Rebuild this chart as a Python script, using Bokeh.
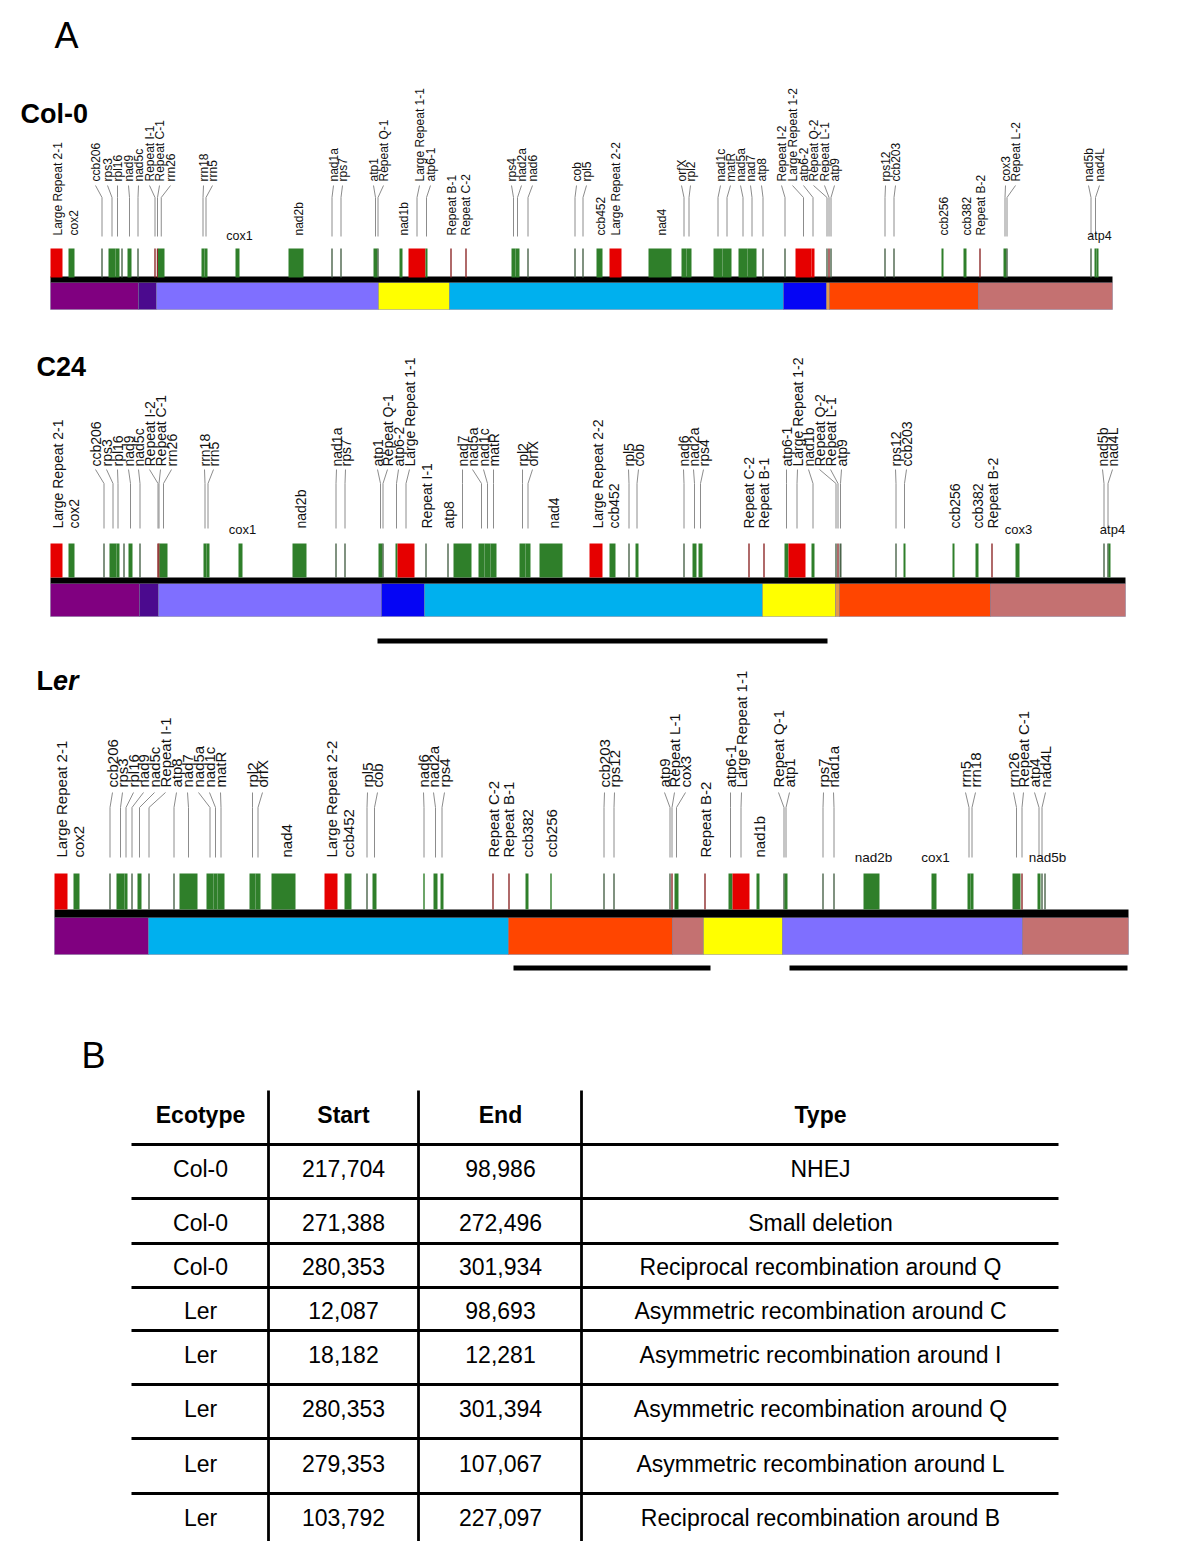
import math
from bokeh.plotting import figure
from bokeh.models import Range1d
from bokeh.core.properties import value
from bokeh.embed import file_html
from bokeh.resources import INLINE

# ---------------------------------------------------------------- data
# genes: (name, start, end, kind)  kind: g=gene, t=thin gene, r=large repeat, d=small repeat
COL0_GENES = [
    ("Large Repeat 2-1", 50, 62, "r"), ("cox2", 68, 74, "g"),
    ("ccb206", 101, 102, "t"), ("rps3", 108, 115, "g"), ("rpl16", 115, 119, "g"), ("", 121, 122, "t"),
    ("nad9", 127, 131, "g"), ("nad5c", 137, 138, "t"), ("Repeat I-1", 154, 155, "d"),
    ("Repeat C-1", 156.5, 157.5, "d"), ("rrn26", 157.5, 164, "g"),
    ("rrn18", 201, 204, "g"), ("rrn5", 204, 207, "g"), ("cox1", 235, 239, "g"),
    ("nad2b", 288, 303, "g"), ("nad1a", 331, 332, "t"), ("rps7", 340, 341, "t"),
    ("atp1", 373, 377, "g"), ("Repeat Q-1", 377, 378, "t"), ("nad1b", 399, 402, "g"),
    ("Large Repeat 1-1", 408, 425, "r"), ("atp6-1", 425, 427, "g"),
    ("Repeat B-1", 450, 451, "d"), ("Repeat C-2", 465, 466, "d"),
    ("rps4", 511, 515, "g"), ("nad2a", 515, 519, "g"), ("nad6", 527, 528, "t"),
    ("cob", 574, 575, "t"), ("rpl5", 582, 583, "t"),
    ("ccb452", 596, 602, "g"), ("Large Repeat 2-2", 609, 621, "r"), ("nad4", 648, 671, "g"),
    ("orfX", 681, 686, "g"), ("rpl2", 686, 691, "g"),
    ("nad1c", 713, 722, "g"), ("matR", 722, 731, "g"), ("nad5a", 738, 747, "g"), ("nad7", 747, 756, "g"),
    ("atp8", 762, 763, "t"), ("Repeat I-2", 784, 785, "t"),
    ("Large Repeat 1-2", 795, 811, "r"), ("atp6-2", 811, 814, "r"),
    ("Repeat Q-2", 826, 827, "t"), ("Repeat L-1", 828, 829, "d"), ("atp9", 830, 831, "t"),
    ("rps12", 884, 885, "t"), ("ccb203", 893, 894, "t"),
    ("ccb256", 941, 943, "g"), ("ccb382", 963, 966, "g"), ("Repeat B-2", 979, 980, "d"),
    ("cox3", 1003, 1006, "g"), ("Repeat L-2", 1006, 1007, "t"),
    ("nad5b", 1090, 1091, "t"), ("nad4L", 1094, 1096, "g"), ("atp4", 1096, 1098, "g"),
]
COL0_SEGMENTS = [(50, 138, "purple"), (138, 156, "indigo"), (156, 378, "lavender"),
                 (378, 449, "yellow"), (449, 783, "sky"), (783, 826, "blue"), (826, 829, "tan"),
                 (829, 978, "orange"), (978, 1112, "rose")]
COL0_SPANS = []

C24_GENES = [
    ("Large Repeat 2-1", 50, 62, "r"), ("cox2", 68, 74, "g"),
    ("ccb206", 103, 104, "t"), ("rps3", 109, 116, "g"), ("rpl16", 116, 119, "g"), ("", 123, 124, "t"),
    ("nad9", 128, 132, "g"), ("nad5c", 139, 140, "t"), ("Repeat I-2", 157, 158, "d"),
    ("Repeat C-1", 158, 159, "d"), ("rrn26", 159, 167, "g"),
    ("rrn18", 203, 206, "g"), ("rrn5", 206, 209, "g"), ("cox1", 238, 242, "g"),
    ("nad2b", 292, 306, "g"), ("nad1a", 335, 336, "t"), ("rps7", 344, 345, "t"),
    ("atp1", 378, 382, "g"), ("Repeat Q-1", 382, 383, "t"),
    ("atp6-2", 395, 397, "g"), ("Large Repeat 1-1", 397, 414, "r"),
    ("Repeat I-1", 425, 426, "t"), ("atp8", 447, 448, "t"),
    ("nad7", 453, 471, "g"), ("nad5a", 478, 484, "g"), ("nad1c", 484, 490, "g"), ("matR", 490, 496, "g"),
    ("rpl2", 519, 525, "g"), ("orfX", 525, 530, "g"), ("nad4", 539, 562, "g"),
    ("Large Repeat 2-2", 589, 602, "r"), ("ccb452", 609, 615, "g"),
    ("rpl5", 628, 629, "t"), ("cob", 635, 638, "g"),
    ("nad6", 683, 684, "t"), ("nad2a", 692, 696, "g"), ("rps4", 698, 702, "g"),
    ("Repeat C-2", 748, 749, "d"), ("Repeat B-1", 763, 764, "d"),
    ("atp6-1", 784, 788, "g"), ("Large Repeat 1-2", 788, 805, "r"), ("nad1b", 811, 814, "g"),
    ("Repeat Q-2", 835, 836, "t"), ("Repeat L-1", 837, 838, "d"), ("atp9", 839, 841, "t"),
    ("rps12", 895, 896, "t"), ("ccb203", 903, 905, "g"),
    ("ccb256", 952, 954, "g"), ("ccb382", 975, 978, "g"), ("Repeat B-2", 991, 992, "d"),
    ("cox3", 1015, 1019, "g"),
    ("nad5b", 1103, 1104, "t"), ("nad4L", 1107, 1108, "t"), ("atp4", 1108, 1110, "g"),
]
C24_SEGMENTS = [(50, 139, "purple"), (139, 158, "indigo"), (158, 381, "lavender"),
                (381, 424, "blue"), (424, 762, "sky"), (762, 835, "yellow"), (835, 839, "tan"),
                (839, 990, "orange"), (990, 1125, "rose")]
C24_SPANS = [(377, 827)]

LER_GENES = [
    ("Large Repeat 2-1", 54, 67, "r"), ("cox2", 73, 79, "g"),
    ("ccb206", 109, 110, "t"), ("rps3", 116, 124, "g"), ("rpl16", 124, 127, "g"), ("nad9", 131, 132, "t"),
    ("nad5c", 137, 141, "g"), ("Repeat I-1", 148, 149, "t"),
    ("atp8", 173, 174, "t"), ("nad7", 179, 197, "g"),
    ("nad5a", 206, 213, "g"), ("nad1c", 213, 217, "g"), ("matR", 217, 224, "g"),
    ("rpl2", 249, 255, "g"), ("orfX", 255, 260, "g"), ("nad4", 271, 295, "g"),
    ("Large Repeat 2-2", 324, 337, "r"), ("ccb452", 344, 351, "g"),
    ("rpl5", 366, 367, "t"), ("cob", 372, 376, "g"),
    ("nad6", 423, 424, "g"), ("nad2a", 433, 437, "g"), ("rps4", 440, 443, "g"),
    ("Repeat C-2", 492, 493, "d"), ("Repeat B-1", 508, 509, "d"),
    ("ccb382", 525, 528, "g"), ("ccb256", 550, 551, "g"),
    ("ccb203", 603, 604, "t"), ("rps12", 613, 614, "t"),
    ("atp9", 669, 670, "t"), ("Repeat L-1", 671, 672, "d"), ("cox3", 674, 678, "g"),
    ("Repeat B-2", 704, 705, "d"),
    ("atp6-1", 728, 732, "g"), ("Large Repeat 1-1", 732, 749, "r"), ("nad1b", 756, 759, "g"),
    ("Repeat Q-1", 783, 784, "t"), ("atp1", 784, 787, "g"),
    ("rps7", 822, 823, "t"), ("nad1a", 833, 834, "t"),
    ("nad2b", 863, 879, "g"), ("cox1", 931, 936, "g"),
    ("rrn5", 967, 970, "g"), ("rrn18", 970, 973, "g"),
    ("rrn26", 1012, 1020, "g"), ("Repeat C-1", 1021, 1022, "d"),
    ("atp4", 1037, 1040, "g"), ("nad4L", 1041, 1042, "t"), ("nad5b", 1044, 1045, "t"),
]
LER_SEGMENTS = [(54, 148, "purple"), (148, 508, "sky"), (508, 672, "orange"), (672, 703, "rose"),
                (703, 782, "yellow"), (782, 1022, "lavender"), (1022, 1128, "rose")]
LER_SPANS = [(513, 710), (789, 1127)]

TABLE_HEADER = ["Ecotype", "Start", "End", "Type"]
ECOTYPES = ["Col-0", "Col-0", "Col-0", "Ler", "Ler", "Ler", "Ler", "Ler"]
STARTS = [217704, 271388, 280353, 12087, 18182, 280353, 279353, 103792]
ENDS = [98986, 272496, 301934, 98693, 12281, 301394, 107067, 227097]
TYPES = ["NHEJ", "Small deletion", "Reciprocal recombination around Q",
         "Asymmetric recombination around C", "Asymmetric recombination around I",
         "Asymmetric recombination around Q", "Asymmetric recombination around L",
         "Reciprocal recombination around B"]

# ---------------------------------------------------------------- layout (label placement)
COL0_LABELS = {
    "Large Repeat 2-1": (57, "low"), "cox2": (73, "low"), "ccb206": (95, "up"), "rps3": (107, "up"),
    "rpl16": (117, "up"), "nad9": (128, "up"), "nad5c": (138, "up"), "Repeat I-1": (149, "up"),
    "Repeat C-1": (159, "up"), "rrn26": (170, "up"), "rrn18": (203, "up"), "rrn5": (212, "up"),
    "cox1": (239, "h"), "nad2b": (298, "low"), "nad1a": (333, "up"), "rps7": (342, "up"),
    "atp1": (373, "up"), "Repeat Q-1": (383, "up"), "nad1b": (403, "low"),
    "Large Repeat 1-1": (419, "up"), "atp6-1": (430, "up"), "Repeat B-1": (451, "low"),
    "Repeat C-2": (465, "low"), "rps4": (511, "up"), "nad2a": (521, "up"), "nad6": (532, "up"),
    "cob": (576, "up"), "rpl5": (586, "up"), "ccb452": (600, "low"), "Large Repeat 2-2": (615, "low"),
    "nad4": (661, "low"), "orfX": (681, "up"), "rpl2": (690, "up"), "nad1c": (720, "up"),
    "matR": (730, "up"), "nad5a": (740, "up"), "nad7": (750, "up"), "atp8": (761, "up"),
    "Repeat I-2": (781, "up"), "Large Repeat 1-2": (792, "up"), "atp6-2": (803, "up"),
    "Repeat Q-2": (813, "up"), "Repeat L-1": (824, "up"), "atp9": (834, "up"),
    "rps12": (885, "up"), "ccb203": (895, "up"), "ccb256": (943, "low"), "ccb382": (966, "low"),
    "Repeat B-2": (980, "low"), "cox3": (1005, "up"), "Repeat L-2": (1015, "up"),
    "nad5b": (1088, "up"), "nad4L": (1099, "up"), "atp4": (1099, "h"),
}
C24_LABELS = {
    "Large Repeat 2-1": (57, "low"), "cox2": (73, "low"), "ccb206": (95, "up"), "rps3": (106, "up"),
    "rpl16": (117, "up"), "nad9": (128, "up"), "nad5c": (138, "up"), "Repeat I-2": (149, "up"),
    "Repeat C-1": (160, "up"), "rrn26": (171, "up"), "rrn18": (204, "up"), "rrn5": (213, "up"),
    "cox1": (242, "h"), "nad2b": (300, "low"), "nad1a": (336, "up"), "rps7": (345, "up"),
    "atp1": (377, "up"), "Repeat Q-1": (387, "up"), "atp6-2": (398, "up"),
    "Large Repeat 1-1": (409, "up"), "Repeat I-1": (426, "low"), "atp8": (448, "low"),
    "nad7": (462, "up"), "nad5a": (472, "up"), "nad1c": (483, "up"), "matR": (493, "up"),
    "rpl2": (522, "up"), "orfX": (532, "up"), "nad4": (553, "low"), "Large Repeat 2-2": (597, "low"),
    "ccb452": (613, "low"), "rpl5": (628, "up"), "cob": (638, "up"), "nad6": (683, "up"),
    "nad2a": (693, "up"), "rps4": (703, "up"), "Repeat C-2": (748, "low"), "Repeat B-1": (763, "low"),
    "atp6-1": (786, "up"), "Large Repeat 1-2": (797, "up"), "nad1b": (808, "up"),
    "Repeat Q-2": (819, "up"), "Repeat L-1": (830, "up"), "atp9": (841, "up"),
    "rps12": (895, "up"), "ccb203": (906, "up"), "ccb256": (954, "low"), "ccb382": (977, "low"),
    "Repeat B-2": (992, "low"), "cox3": (1018, "h"), "nad5b": (1102, "up"), "nad4L": (1112, "up"),
    "atp4": (1112, "h"),
}
LER_LABELS = {
    "Large Repeat 2-1": (61, "low"), "cox2": (78, "low"), "ccb206": (112, "up"), "rps3": (122, "up"),
    "rpl16": (133, "up"), "nad9": (143, "up"), "nad5c": (154, "up"), "Repeat I-1": (165, "up"),
    "atp8": (176, "up"), "nad7": (187, "up"), "nad5a": (198, "up"), "nad1c": (209, "up"),
    "matR": (220, "up"), "rpl2": (252, "up"), "orfX": (262, "up"), "nad4": (286, "low"),
    "Large Repeat 2-2": (331, "low"), "ccb452": (348, "low"), "rpl5": (367, "up"), "cob": (377, "up"),
    "nad6": (423, "up"), "nad2a": (433, "up"), "rps4": (444, "up"), "Repeat C-2": (493, "low"),
    "Repeat B-1": (508, "low"), "ccb382": (527, "low"), "ccb256": (551, "low"),
    "ccb203": (604, "up"), "rps12": (614, "up"), "atp9": (664, "up"), "Repeat L-1": (674, "up"),
    "cox3": (685, "up"), "Repeat B-2": (705, "low"), "atp6-1": (730, "up"),
    "Large Repeat 1-1": (741, "up"), "nad1b": (759, "low"), "Repeat Q-1": (778, "up"),
    "atp1": (789, "up"), "rps7": (823, "up"), "nad1a": (833, "up"), "nad2b": (873, "h"),
    "cox1": (935, "h"), "rrn5": (965, "up"), "rrn18": (975, "up"), "rrn26": (1013, "up"),
    "Repeat C-1": (1023, "up"), "atp4": (1034, "up"), "nad4L": (1045, "up"), "nad5b": (1047, "h"),
}

# vertical geometry of each map (page pixels)
GEOM = {
    "Col-0": dict(title_x=20, title_y=113, up=181, lead=(185, 197, 236), low=235, h=235,
                  mark=(248, 277), line=(276, 282), block=309, span=None, fs=12, hfs=12.5),
    "C24": dict(title_x=36, title_y=366, up=466, lead=(469, 483, 528), low=528, h=529,
                mark=(543, 577), line=(577, 583), block=616, span=(638, 643), fs=14, hfs=13),
    "Ler": dict(title_x=36, title_y=680, up=787, lead=(792, 807, 857), low=857, h=857,
                mark=(873, 909), line=(909, 917), block=954, span=(965, 970), fs=15, hfs=13.5),
}

SEG_COLORS = {"purple": "#800080", "indigo": "#4B0A8E", "lavender": "#7F6FFF", "yellow": "#FFFF00",
              "sky": "#00B0EE", "blue": "#0505F5", "tan": "#E39A4A", "orange": "#FF4500",
              "rose": "#C47171"}
KIND_FILL = {"g": "#2F7F2A", "t": "#4A644A", "r": "#E60000", "d": "#8E2A2A"}
FONT = "Liberation Sans"

# ---------------------------------------------------------------- figure
W, H = 1184, 1541
p = figure(width=W, height=H, x_range=Range1d(0, W), y_range=Range1d(H, 0),
           output_backend="svg", toolbar_location=None, x_axis_type=None, y_axis_type=None,
           min_border=0)
p.grid.visible = False
p.outline_line_color = None

# panel letters
p.text(x=[66], y=[35], text=["A"], text_font=value(FONT), text_font_size="36px",
       text_align="center", text_baseline="middle", text_color="black")
p.text(x=[93], y=[1055], text=["B"], text_font=value(FONT), text_font_size="36px",
       text_align="center", text_baseline="middle", text_color="black")


def draw_map(key, genes, labels, segments, spans):
    g = GEOM[key]
    fs = "%spx" % g["fs"]
    hfs = "%spx" % g["hfs"]
    # title
    if key == "Ler":
        p.text(x=[g["title_x"]], y=[g["title_y"]], text=["L"], text_font=value(FONT),
               text_font_size="27px", text_font_style="bold", text_baseline="middle", text_align="left")
        p.text(x=[g["title_x"] + 16.5], y=[g["title_y"]], text=["er"], text_font=value(FONT),
               text_font_size="27px", text_font_style="bold italic", text_baseline="middle", text_align="left")
    else:
        p.text(x=[g["title_x"]], y=[g["title_y"]], text=[key], text_font=value(FONT),
               text_font_size="27px", text_font_style="bold", text_baseline="middle", text_align="left")

    # segments (colored blocks)
    p.quad(left=[s[0] for s in segments], right=[s[1] for s in segments],
           top=[g["line"][1]] * len(segments), bottom=[g["block"]] * len(segments),
           fill_color=[SEG_COLORS[s[2]] for s in segments], line_color="#6a6a8a", line_width=0.4)
    # chromosome line
    x0 = segments[0][0]
    x1 = segments[-1][1]
    p.quad(left=[x0], right=[x1], top=[g["line"][0]], bottom=[g["line"][1]],
           fill_color="black", line_color=None)

    # gene marks
    lefts, rights, fills = [], [], []
    for name, s, e, k in genes:
        if e - s < 1.4:
            c = (s + e) / 2
            s, e = c - 0.7, c + 0.7
        lefts.append(s)
        rights.append(e)
        fills.append(KIND_FILL[k])
    n = len(genes)
    p.quad(left=lefts, right=rights, top=[g["mark"][0]] * n, bottom=[g["mark"][1]] * n,
           fill_color=fills, line_color=None)

    # labels + leader lines
    up_x, up_t, low_x, low_t, h_x, h_t = [], [], [], [], [], []
    xs, ys = [], []
    for name, s, e, k in genes:
        if not name:
            continue
        lx, level = labels[name]
        gx = (s + e) / 2
        if level == "up":
            up_x.append(lx)
            up_t.append(name)
            y0, yb, y1 = g["lead"]
            xs.append([lx, gx, gx])
            ys.append([y0, yb, y1])
        elif level == "low":
            low_x.append(lx)
            low_t.append(name)
        else:
            h_x.append(lx)
            h_t.append(name)
    p.multi_line(xs=xs, ys=ys, line_color="#8c8c8c", line_width=1)
    p.text(x=up_x, y=[g["up"]] * len(up_x), text=up_t, angle=math.pi / 2,
           text_font=value(FONT), text_font_size=fs, text_align="left", text_baseline="middle",
           text_color="#111111")
    p.text(x=low_x, y=[g["low"]] * len(low_x), text=low_t, angle=math.pi / 2,
           text_font=value(FONT), text_font_size=fs, text_align="left", text_baseline="middle",
           text_color="#111111")
    p.text(x=h_x, y=[g["h"]] * len(h_x), text=h_t,
           text_font=value(FONT), text_font_size=hfs, text_align="center", text_baseline="alphabetic",
           text_color="#111111")

    # spans (black bars under map)
    if spans:
        p.quad(left=[a for a, b in spans], right=[b for a, b in spans],
               top=[g["span"][0]] * len(spans), bottom=[g["span"][1]] * len(spans),
               fill_color="black", line_color=None)


draw_map("Col-0", COL0_GENES, COL0_LABELS, COL0_SEGMENTS, COL0_SPANS)
draw_map("C24", C24_GENES, C24_LABELS, C24_SEGMENTS, C24_SPANS)
draw_map("Ler", LER_GENES, LER_LABELS, LER_SEGMENTS, LER_SPANS)

# ---------------------------------------------------------------- table (panel B)
COL_X = [200, 343, 500, 820]
HEADER_Y = 1114
ROW_Y = [1168, 1222, 1266, 1310, 1354, 1408, 1463, 1517]
HLINE_Y = [1144, 1198, 1243, 1287, 1330, 1384, 1438, 1493]
VLINE_X = [268, 418, 581]
TABLE_X = (131, 1058)
TABLE_Y = (1090, 1545)

p.segment(x0=[TABLE_X[0]] * len(HLINE_Y), x1=[TABLE_X[1]] * len(HLINE_Y), y0=HLINE_Y, y1=HLINE_Y,
          line_color="black", line_width=2.8)
p.segment(x0=VLINE_X, x1=VLINE_X, y0=[TABLE_Y[0]] * 3, y1=[TABLE_Y[1]] * 3,
          line_color="black", line_width=2.8)
p.text(x=COL_X, y=[HEADER_Y] * 4, text=TABLE_HEADER, text_font=value(FONT), text_font_size="23px",
       text_font_style="bold", text_align="center", text_baseline="middle", text_color="black")
cells_x, cells_y, cells_t = [], [], []
for i in range(len(ECOTYPES)):
    row = [ECOTYPES[i], "{:,}".format(STARTS[i]), "{:,}".format(ENDS[i]), TYPES[i]]
    for j, t in enumerate(row):
        cells_x.append(COL_X[j])
        cells_y.append(ROW_Y[i])
        cells_t.append(t)
p.text(x=cells_x, y=cells_y, text=cells_t, text_font=value(FONT), text_font_size="23px",
       text_align="center", text_baseline="middle", text_color="black")

open("out.html", "w").write(file_html(p, INLINE))
